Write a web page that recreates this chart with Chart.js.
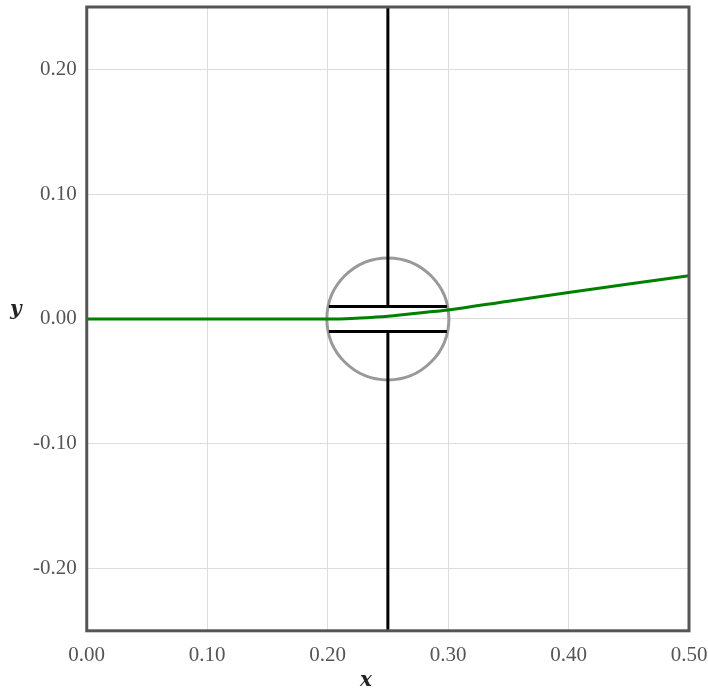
<!DOCTYPE html>
<html>
<head>
<meta charset="utf-8">
<script src="https://cdn.jsdelivr.net/npm/chart.js@4"></script>
<style>
  body { margin: 0; background: #fff; }
  #wrap { width: 708px; height: 688px; }
</style>
</head>
<body>
<div id="wrap"><canvas id="chart"></canvas></div>
<script>
// data
const curveX = [0, 0.05, 0.10, 0.15, 0.20, 0.22, 0.24, 0.25, 0.26, 0.28, 0.30, 0.35, 0.40, 0.45, 0.50];
const curveY = [0, 0, 0, 0, 0, 0.0004, 0.0015, 0.0022, 0.0031, 0.0052, 0.0072, 0.0142, 0.0211, 0.0279, 0.0346];

const stemX = [0.25, 0.25];
const stemTopY = [0.25, 0.01];
const stemBottomY = [-0.01, -0.25];

const barX = [0.201, 0.299];
const barTopY = [0.01, 0.01];
const barBottomY = [-0.01, -0.01];

const ringCenter = { x: 0.25, y: 0 };

const xTicks = [0, 0.1, 0.2, 0.3, 0.4, 0.5];
const yTicks = [-0.2, -0.1, 0, 0.1, 0.2];

function pts(xs, ys) {
  return xs.map((x, i) => ({ x: x, y: ys[i] }));
}

function lineSet(data, color, order) {
  return {
    data: data,
    showLine: true,
    borderColor: color,
    borderWidth: 3,
    pointRadius: 0,
    fill: false,
    order: order
  };
}

// frame round the plot area + upright axis titles
const framePlugin = {
  id: 'frame',
  afterDraw(chart) {
    const a = chart.chartArea;
    const ctx = chart.ctx;
    ctx.save();
    ctx.strokeStyle = '#555';
    ctx.lineWidth = 3;
    ctx.strokeRect(a.left, a.top, a.right - a.left, a.bottom - a.top);

    ctx.fillStyle = '#222';
    ctx.font = 'italic bold 20px "DejaVu Serif"';
    ctx.textAlign = 'center';
    ctx.textBaseline = 'alphabetic';
    ctx.fillText('y', a.left - 71, (a.top + a.bottom) / 2 - 4);
    ctx.fillText('x', (a.left + a.right) / 2 - 22, a.bottom + 55);
    ctx.restore();
  }
};

const tickFont = { family: 'Liberation Serif', size: 21 };

const curve = lineSet(pts(curveX, curveY), 'green', 1);
curve.cubicInterpolationMode = 'monotone';

new Chart(document.getElementById('chart'), {
  type: 'scatter',
  data: {
    datasets: [
      curve,
      lineSet(pts(barX, barTopY), '#000', 2),
      lineSet(pts(barX, barBottomY), '#000', 2),
      lineSet(pts(stemX, stemTopY), '#000', 2),
      lineSet(pts(stemX, stemBottomY), '#000', 2),
      {
        data: [ringCenter],
        pointRadius: 61,
        pointBorderWidth: 3,
        pointBorderColor: '#999',
        pointBackgroundColor: 'rgba(0,0,0,0)',
        order: 3
      }
    ]
  },
  options: {
    responsive: true,
    maintainAspectRatio: false,
    animation: false,
    events: [],
    layout: { autoPadding: false, padding: { top: 7, right: 19, left: 23, bottom: 8 } },
    plugins: {
      legend: { display: false },
      tooltip: { enabled: false }
    },
    scales: {
      x: {
        type: 'linear',
        min: 0,
        max: 0.5,
        afterBuildTicks: s => { s.ticks = xTicks.map(v => ({ value: v })); },
        afterFit: s => { s.paddingLeft = 0; s.paddingRight = 0; },
        ticks: { autoSkip: false, maxRotation: 0, color: '#555', font: tickFont, padding: 12,
                 callback: v => v.toFixed(2) },
        grid: { color: '#ddd', drawTicks: false },
        border: { display: false }
      },
      y: {
        type: 'linear',
        min: -0.25,
        max: 0.25,
        afterBuildTicks: s => { s.ticks = yTicks.map(v => ({ value: v })); },
        afterFit: s => { s.paddingTop = 0; s.paddingBottom = 0; },
        ticks: { autoSkip: false, color: '#555', font: tickFont, padding: 10,
                 callback: v => v.toFixed(2) },
        grid: { color: '#ddd', drawTicks: false },
        border: { display: false }
      }
    }
  },
  plugins: [framePlugin]
});
</script>
</body>
</html>
